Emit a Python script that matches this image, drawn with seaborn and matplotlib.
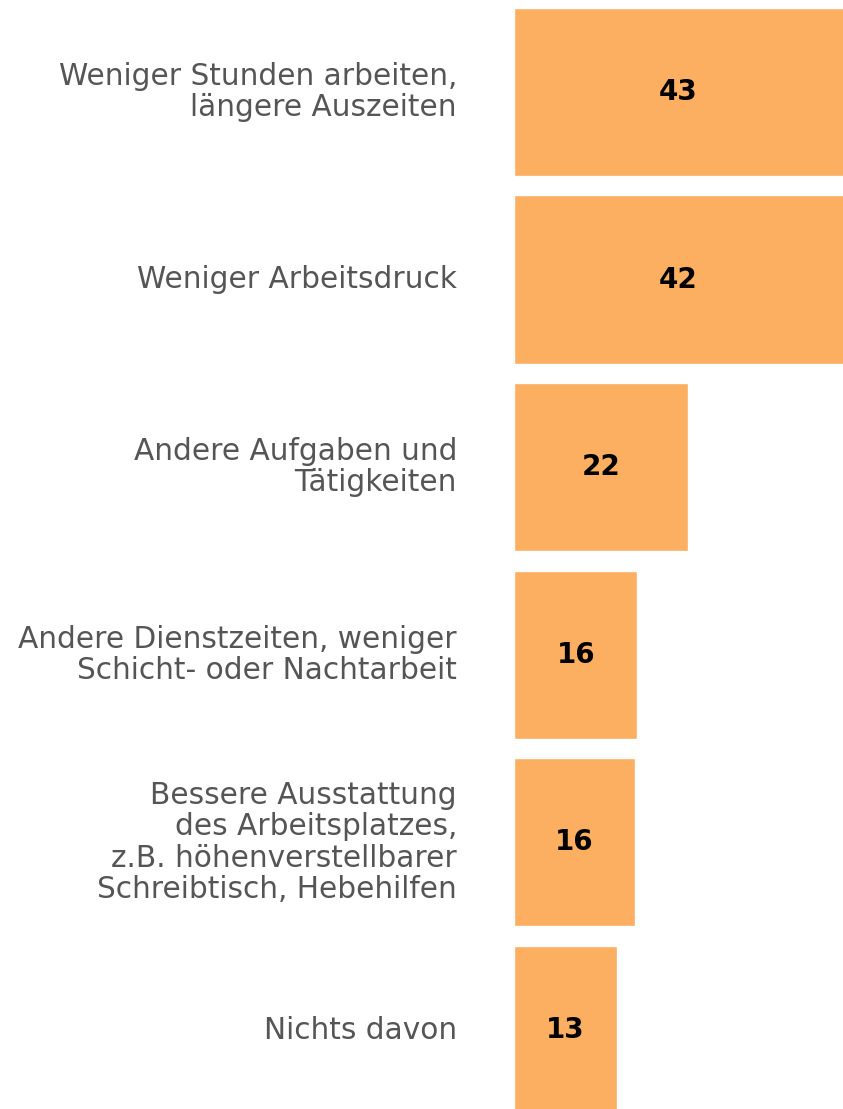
import matplotlib
matplotlib.use("Agg")
import matplotlib.pyplot as plt
import matplotlib.transforms as mtransforms
import seaborn as sns

# Data
categories = [
    "Weniger Stunden arbeiten,\nlängere Auszeiten",
    "Weniger Arbeitsdruck",
    "Andere Aufgaben und\nTätigkeiten",
    "Andere Dienstzeiten, weniger\nSchicht- oder Nachtarbeit",
    "Bessere Ausstattung\ndes Arbeitsplatzes,\nz.B. höhenverstellbarer\nSchreibtisch, Hebehilfen",
    "Nichts davon",
]
shares = [43, 42, 22, 15.6, 15.3, 13]
share_labels = ["43", "42", "22", "16", "16", "13"]

bar_color = "#fcae61"
label_color = "#555555"

sns.set_style("white")
plt.rcParams["font.family"] = ["DejaVu Sans"]

fig = plt.figure(figsize=(8.43, 11.09), dpi=100)
ax = fig.add_axes([514 / 843, 0, 329 / 843, 1])

sns.barplot(x=shares, y=list(range(len(categories))), orient="h", color=bar_color,
            width=0.896, saturation=1, ax=ax)

xmax = 41.6
ax.set_xlim(0, xmax)
ax.set_ylim(5.421, -0.490)
ax.axis("off")

# value labels, centred in the visible part of each bar
for i, (v, lab) in enumerate(zip(shares, share_labels)):
    ax.text(min(v, xmax) / 2, i, lab, ha="center", va="center",
            fontsize=20, fontweight="bold", color="black")

# category labels, right aligned left of the bars
trans = mtransforms.blended_transform_factory(fig.transFigure, ax.transData)
for i, cat in enumerate(categories):
    fig.text(457 / 843, i, cat, transform=trans, ha="right", va="center",
             multialignment="right", fontsize=21.3, color=label_color,
             linespacing=1.1)

fig.savefig("out.png", dpi=100)
